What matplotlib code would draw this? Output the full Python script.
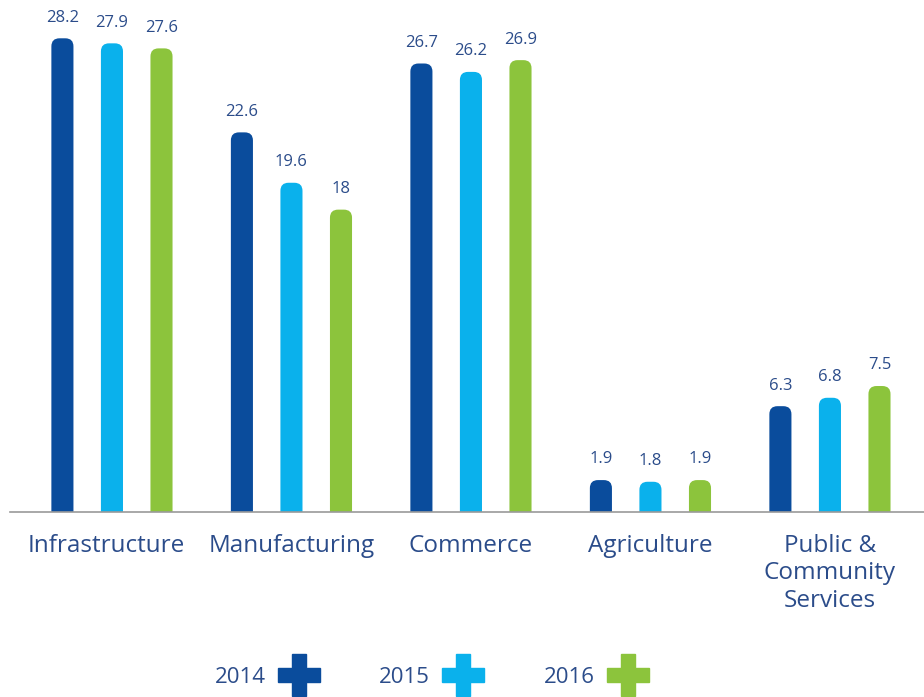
import numpy as np
import matplotlib.pyplot as plt
from matplotlib.patches import FancyBboxPatch
from matplotlib.lines import Line2D

plt.rcParams['font.family'] = ['Open Sans', 'DejaVu Sans']

categories = ['Infrastructure', 'Manufacturing', 'Commerce', 'Agriculture',
              'Public &\nCommunity\nServices']
years = ['2014', '2015', '2016']
values_2014 = [28.2, 22.6, 26.7, 1.9, 6.3]
values_2015 = [27.9, 19.6, 26.2, 1.8, 6.8]
values_2016 = [27.6, 18, 26.9, 1.9, 7.5]

colors = ['#0a4c9c', '#0ab1ec', '#8cc43c']
text_color = '#2b4c8a'

fig = plt.figure(figsize=(9.24, 6.97), dpi=100)
ax = fig.add_axes([10 / 924, 185 / 697, 914 / 924, 512 / 697])

xmin, xmax = -0.568, 4.524
ymin, ymax = 0, 30.48
ax.set_xlim(xmin, xmax)
ax.set_ylim(ymin, ymax)

# aspect ratio so the rounded tops come out circular
ax_w = 914
ax_h = 512
aspect = ((ymax - ymin) / ax_h) / ((xmax - xmin) / ax_w)

x = np.arange(len(categories))
offset = 0.276
width = 0.123
series = [values_2014, values_2015, values_2016]
for i, (vals, c) in enumerate(zip(series, colors)):
    for xi, v in zip(x + (i - 1) * offset, vals):
        p = FancyBboxPatch((xi - width / 2, -2), width, v + 2,
                           boxstyle='round,pad=0,rounding_size=0.045',
                           mutation_aspect=aspect, fc=c, ec='none')
        ax.add_patch(p)
        ax.text(xi, v + 0.75, f'{v:g}', ha='center', va='bottom',
                fontsize=12, color=text_color)

ax.axhline(0, color='#9a9a9a', lw=1.2, clip_on=False)

for xi, name in zip(x, categories):
    ax.text(xi - (0.03 if xi == 0 else 0), -1.3, name, ha='center', va='top',
            fontsize=17.5, color=text_color, linespacing=1.2, clip_on=False)

for s in ax.spines.values():
    s.set_visible(False)
ax.set_xticks([])
ax.set_yticks([])

handles = [Line2D([], [], ls='none', marker='P', markersize=30, color=c,
                  markeredgecolor=c) for c in colors]
fig.legend(handles, years, loc='center', bbox_to_anchor=(0.468, 0.028),
           ncol=3, frameon=False, markerfirst=False, fontsize=16,
           labelcolor=text_color, columnspacing=2.6, handletextpad=0.5)

fig.savefig('out.png', dpi=100)
